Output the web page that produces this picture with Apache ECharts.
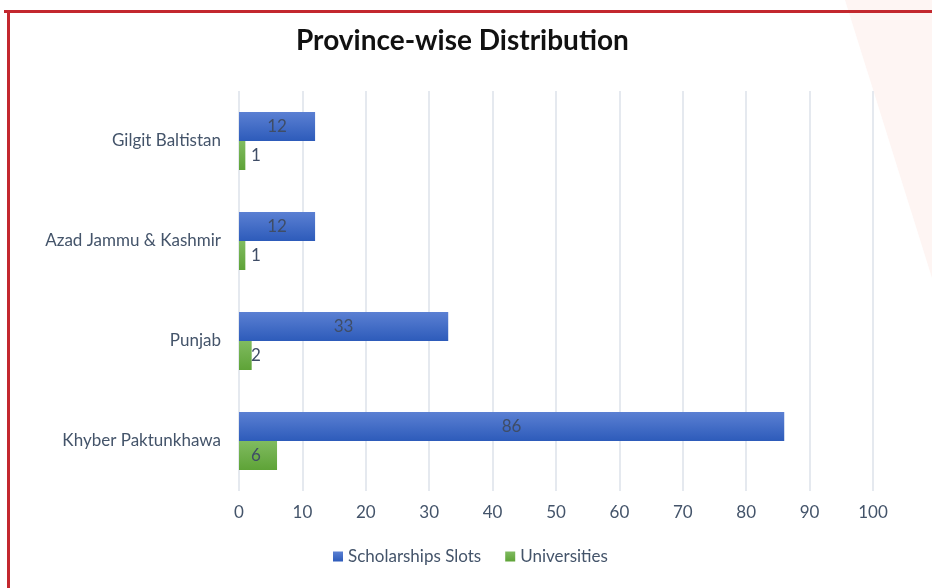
<!DOCTYPE html>
<html><head><meta charset="utf-8">
<script src="https://cdn.jsdelivr.net/npm/echarts@6/dist/echarts.min.js"></script>
<style>html,body{margin:0;padding:0;background:#fff}#c{width:932px;height:588px}</style>
</head><body><div id="c"></div>
<script>
const categories = ['Khyber Paktunkhawa', 'Punjab', 'Azad Jammu & Kashmir', 'Gilgit Baltistan'];
const scholarships = [86, 33, 12, 12];
const universities = [6, 2, 1, 1];
const seriesNames = ['Scholarships Slots', 'Universities'];
const xTicks = [0, 10, 20, 30, 40, 50, 60, 70, 80, 90, 100];

const FONT = 'Lato, "Open Sans", sans-serif';
const TXT = '#44546A';
const chart = echarts.init(document.getElementById('c'), null, {renderer: 'canvas'});
chart.setOption({
  backgroundColor: '#fff',
  animation: false,
  graphic: [
    {type: 'polygon', z: -10, shape: {points: [[845, 0], [932, 0], [932, 278]]}, style: {fill: '#fef5f3'}},
    {type: 'rect', z: 10, shape: {x: 4, y: 10, width: 940, height: 3}, style: {fill: '#c3282e'}},
    {type: 'rect', z: 10, shape: {x: 7, y: 10, width: 3, height: 600}, style: {fill: '#c3282e'}}
  ],
  title: {
    text: 'Province-wise Distribution', left: 291, top: 22,
    textStyle: {fontFamily: FONT, fontSize: 28, fontWeight: 'bold', color: '#111'}
  },
  legend: {
    bottom: 18, left: 328, itemWidth: 10, itemHeight: 10, itemGap: 24,
    icon: 'rect',
    textStyle: {fontFamily: FONT, fontSize: 17, color: TXT},
    data: seriesNames
  },
  grid: {left: 239, top: 91, width: 634, height: 400, containLabel: false},
  xAxis: {
    type: 'value', min: 0, max: 100, interval: 10,
    axisLine: {show: false}, axisTick: {show: false},
    splitLine: {show: true, lineStyle: {color: '#dde2ea', width: 1.5}},
    axisLabel: {fontFamily: FONT, fontSize: 17, color: TXT, margin: 13,
      formatter: v => xTicks.includes(v) ? String(v) : ''}
  },
  yAxis: {
    type: 'category', data: categories,
    axisLine: {show: false}, axisTick: {show: false},
    axisLabel: {fontFamily: FONT, fontSize: 17, color: TXT, margin: 18}
  },
  series: [
    {
      name: seriesNames[0], type: 'bar', data: scholarships, barWidth: 29, barGap: '0%',
      itemStyle: {color: new echarts.graphic.LinearGradient(0, 0, 0, 1, [
        {offset: 0, color: '#5b80d3'}, {offset: 1, color: '#2d5bba'}])},
      label: {show: true, position: 'inside', fontFamily: FONT, fontSize: 17, color: '#3f4d66'}
    },
    {
      name: seriesNames[1], type: 'bar', data: universities, barWidth: 29,
      itemStyle: {color: new echarts.graphic.LinearGradient(0, 0, 0, 1, [
        {offset: 0, color: '#80bb60'}, {offset: 1, color: '#5ea337'}])},
      label: {show: true, position: [12, '50%'], align: 'left', verticalAlign: 'middle',
        fontFamily: FONT, fontSize: 17, color: '#3f4d66'}
    }
  ]
});
</script></body></html>
